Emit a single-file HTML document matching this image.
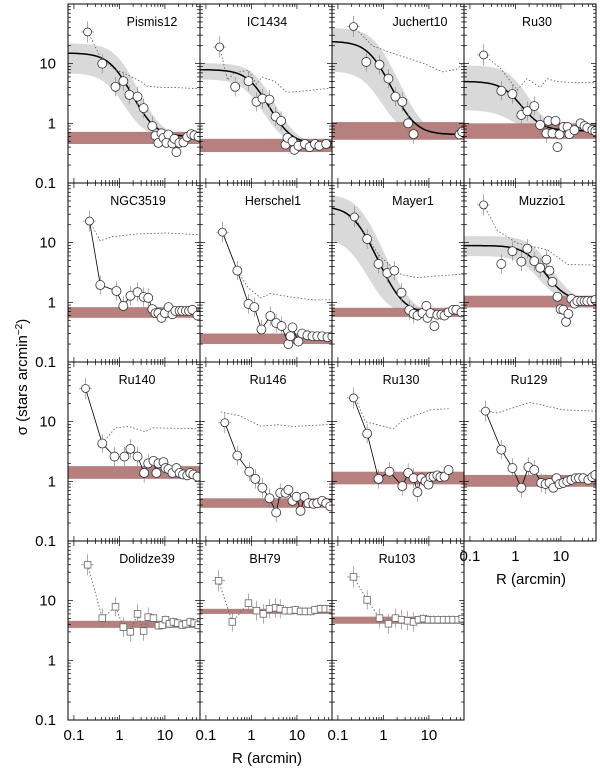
<!DOCTYPE html>
<html><head><meta charset="utf-8"><style>
html,body{margin:0;padding:0;background:#fff;}
svg{display:block;font-family:"Liberation Sans",sans-serif;}
</style></head><body>
<svg id="chart" width="600" height="769" viewBox="0 0 600 769" xmlns="http://www.w3.org/2000/svg">
<text transform="translate(27,377) rotate(-90)" text-anchor="middle" font-size="15">σ (stars arcmin<tspan baseline-shift="super" font-size="10">−2</tspan>)</text>
<text x="267" y="763" text-anchor="middle" font-size="15">R (arcmin)</text>
<text x="531" y="584" text-anchor="middle" font-size="15">R (arcmin)</text>
</svg>
<script>
// ---- data ----
const clusterNames = ["Pismis12","IC1434","Juchert10","Ru30","NGC3519","Herschel1","Mayer1","Muzzio1","Ru140","Ru146","Ru130","Ru129","Dolidze39","BH79","Ru103"];
const nameOffsets = [84,67,88,73,70,73,81,78,69,68,69,65,79,65,65];
const radii = [
 [0.2,0.42,0.82,1.22,1.66,2.5,3.4,5.3,6.2,7.2,8.4,9.3,10.8,11.9,14.6,16.2,17.9,20.8,25.5,31,38,44.5,54.6],
 [0.2,0.44,0.86,1.29,1.75,2.5,3.4,4.5,5.6,6.2,8,8.8,10.8,15,19,25,31,44],
 [0.22,0.42,0.82,1.29,1.84,2.6,3.5,4.6,47,54],
 [0.2,0.49,0.86,1.35,1.83,2.6,3.5,4.8,5.3,6.5,7.6,8.4,9.3,11.3,14,15.4,19.8,27,33,38,49,57],
 [0.22,0.38,0.86,1.22,1.75,2.5,3.4,4.3,5.3,6.2,7.2,8.4,10,12,14.6,17,21,24,29,34,40,52],
 [0.23,0.49,0.86,1.16,1.66,2.6,3.5,4.6,6.5,7.2,8,10.8,13,17,22,28,36,47,60],
 [0.23,0.44,0.78,1.22,1.74,2.5,3.7,4.6,5.6,7.2,8.8,9.3,10.8,13.2,15.3,18.8,22,27,34,40,52],
 [0.2,0.49,0.86,1.35,1.83,2.6,3.5,4.8,5.6,6.5,8.4,9.8,11.3,13,14.6,17,20,23,28,33,38,47,57],
 [0.18,0.42,0.78,1.29,1.74,2.5,3.5,4.3,5.6,6.5,7.2,9.3,10.3,12,14.6,17.9,21,25,31,36,42,52],
 [0.26,0.49,0.9,1.22,1.74,2.5,3.5,4.3,5.6,6.5,8,9.8,12,14.6,17.9,23,28,36,44,54],
 [0.22,0.44,0.78,1.36,2.6,3.5,4.6,5.6,6.8,8.4,9.8,10.8,12.6,15.3,17.9,22,27],
 [0.22,0.49,0.86,1.35,1.93,2.6,3.7,4.6,5.6,6.8,8,9.3,11.3,13.8,17,21,25,31,40,49,57],
 [0.2,0.42,0.82,1.22,1.74,2.5,3.4,4.3,5.6,7.2,8.8,10.3,12.6,15.4,19,24,29,36,44,54],
 [0.19,0.38,0.86,1.29,1.83,2.5,3.4,4.3,5.6,7.2,9.3,12,15.4,20,25,33,42,54],
 [0.22,0.44,0.82,1.29,1.84,2.5,3.4,4.6,5.9,7.6,9.8,12.6,16,21,27,34,44,54]
];
const densities = [
 [34,10,4.1,5.1,3.0,2.8,1.8,0.9,0.62,0.47,0.68,0.57,0.47,0.65,0.46,0.55,0.33,0.47,0.48,0.59,0.66,0.63,0.6],
 [19,4.1,5.1,2.3,2.6,2.5,1.3,1.1,0.44,0.57,0.5,0.36,0.42,0.45,0.4,0.45,0.42,0.45],
 [42,10.7,9.6,5.6,2.8,2.3,1.0,0.66,0.65,0.72],
 [14,3.5,3.1,1.38,1.6,1.95,0.94,0.68,1.1,0.68,1.1,0.4,0.65,0.87,0.87,0.66,0.77,1.0,0.9,0.84,0.77,0.74],
 [23,1.95,1.55,0.87,1.29,1.48,1.23,1.19,0.77,0.66,0.66,0.55,0.66,0.83,0.63,0.72,0.72,0.72,0.72,0.72,0.75,0.6],
 [15,3.4,0.94,0.83,0.35,0.59,0.45,0.4,0.2,0.27,0.38,0.22,0.3,0.28,0.27,0.27,0.27,0.26,0.27],
 [27,11.5,4.4,3.1,3.4,1.45,0.74,0.64,0.6,0.66,0.87,0.55,0.66,0.4,0.62,0.62,0.6,0.68,0.75,0.75,0.68],
 [43,4.4,7.2,4.8,7.9,4.9,3.8,5.2,3.4,2.2,1.24,0.77,0.75,0.47,0.64,1.14,0.95,1.05,1.05,1.05,1.05,1.05,1.1],
 [36,4.3,2.6,2.6,3.5,2.6,1.38,2.0,2.2,1.38,2.0,2.1,1.67,1.6,1.38,1.67,1.38,1.3,1.26,1.38,1.3,1.2],
 [9.6,2.7,1.45,1.1,0.78,0.52,0.3,0.64,0.64,0.72,0.47,0.55,0.32,0.55,0.43,0.42,0.43,0.47,0.43,0.38],
 [25,6.3,1.1,1.45,0.83,1.38,1.13,0.66,1.13,1.0,0.88,1.18,1.2,1.26,1.18,1.2,1.55],
 [15,3.4,1.67,0.78,1.74,1.55,0.94,0.9,0.94,0.78,1.13,0.9,0.94,1.0,1.06,1.13,1.13,1.13,1.06,1.18,1.28],
 [40,5.1,7.9,3.6,3.0,6.0,3.1,5.3,5.1,3.8,3.9,4.8,4.1,4.4,4.2,3.9,4.1,4.4,4.2,3.9],
 [21.6,4.4,9.1,6.8,6.0,7.3,7.6,7.3,6.8,6.8,7.0,6.6,6.6,6.6,7.0,7.3,7.3,7.3],
 [25,10.3,5.1,4.1,5.1,4.8,4.6,4.4,4.8,5.0,4.8,4.8,4.8,4.8,4.8,4.8,4.8,5.0]
];
const bgLow  = [0.45,0.33,0.53,0.55,0.55,0.2,0.57,0.82,1.1,0.36,0.89,0.81,3.5,6.0,4.1];
const bgHigh = [0.72,0.55,1.05,1.0,0.83,0.3,0.81,1.29,1.8,0.52,1.45,1.28,4.6,7.3,5.4];
// King model params [central density, core radius, background]; null = no fit
const kingCentral = [14.5,7.5,23,4.3,null,null,40,7.9,null,null,null,null,null,null,null];
const kingCore    = [0.85,1.2,0.62,0.85,null,null,0.27,2.65,null,null,null,null,null,null,null];
const kingBg      = [0.6,0.45,0.65,0.75,null,null,0.65,1.05,null,null,null,null,null,null,null];
const bandHiFactor = [1.47,1.3,1.7,2.0,null,null,1.6,1.5];
const bandLoFactor = [0.44,0.67,0.3,0.22,null,null,0.28,0.63];
// dotted comparison profiles
const dotR = [
 [0.2,0.4,0.8,1.5,3,4,8,15,30,55],
 [0.2,0.3,0.42,0.86,1.3,1.7,3.3,6,15,55],
 [0.22,0.57,1,2,3.9,8,15,20,40,55],
 [0.2,0.46,1.1,1.8,3.5,5,8,20,55],
 [0.22,0.38,0.7,2.5,11,55],
 [0.23,0.49,0.86,1.6,2.6,9,24,60],
 [0.23,0.44,0.86,2.5,5.5,18,60],
 [0.2,0.4,1.1,5,14,63],
 [0.42,0.82,1.6,3.7,5.5,55],
 [0.21,0.55,1.6,3.8,8,60],
 [0.22,0.4,1.66,2.7,10.8,27],
 [0.22,0.4,2.1,11,60]
];
const dotV = [
 [35,12,8,6.5,5,4.2,4,4,3.9,3.8],
 [19,5.3,7,7.8,4.5,6,5.0,3.3,3.5,3.9],
 [42,20,17,14,12,10,8,7.3,8,10],
 [14,8.5,3.6,5.6,4,5.6,5,4.8,4.8],
 [23,10.7,12.6,14,14.5,13.6],
 [15,3.4,1.74,1.18,1.4,1.2,1.1,1.1],
 [27,12,5.8,2.9,2.6,2.8,3.0],
 [43,16,9.8,7.6,4.3,4.2],
 [4.3,7.9,8.3,6.8,7.9,7.6],
 [14.5,12.6,8.4,8.9,8.3,9],
 [30,10,7.6,10.7,15.8,16.5],
 [15,14,21,15.8,15]
];
const xTickLabels = ["0.1","1","10"];
const yTickLabels = ["0.1","1","10"];

// ---- layout ----
const NS="http://www.w3.org/2000/svg";
const svg=document.getElementById('chart');
const colLeft=[68,200,332,464], rowTop=[4,183,362,541], PW=132, PH=179;
const LX0=-1.13, PXD=45.5, LY0=-1, PYD=PH/3;
function mk(tag,attrs,parent){const e=document.createElementNS(NS,tag);for(const k in attrs)e.setAttribute(k,attrs[k]);(parent||svg).appendChild(e);return e;}
function xs(p,r){return colLeft[p%4]+(Math.log10(r)-LX0)*PXD;}
function ys(p,v){return rowTop[Math.floor(p/4)]+PH-(Math.log10(v)-LY0)*PYD;}
const defs=mk('defs',{});

for(let p=0;p<15;p++){
  const L=colLeft[p%4], T=rowTop[Math.floor(p/4)];
  const g=mk('g',{});
  
  
  const cp=mk('clipPath',{id:'c'+p},defs); mk('rect',{x:L,y:T,width:PW,height:PH},cp);
  const inner=mk('g',{'clip-path':'url(#c'+p+')'},g);
  const rs=[]; for(let i=0;i<=120;i++) rs.push(Math.pow(10,LX0+i*(PW/PXD)/120));
  if(kingCentral[p]!==null){
    const f0=kingCentral[p],rc=kingCore[p],bg=kingBg[p];
    const up=rs.map(r=>[xs(p,r),ys(p,bg+f0*bandHiFactor[p]/(1+Math.pow(r/(rc*1.25),2)))]);
    const lo=rs.map(r=>[xs(p,r),ys(p,bg*0.95+f0*bandLoFactor[p]/(1+Math.pow(r/(rc*0.8),2)))]).reverse();
    const band=mk('path',{d:'M'+up.concat(lo).map(a=>a[0].toFixed(1)+','+a[1].toFixed(1)).join('L')+'Z',fill:'#d9d9d9'},inner);
    
    
  }
  const bb=mk('rect',{x:L,width:PW,y:ys(p,bgHigh[p]),height:ys(p,bgLow[p])-ys(p,bgHigh[p]),fill:'#b5807e'},inner);
  
  
  if(kingCentral[p]!==null){
    const f0=kingCentral[p],rc=kingCore[p],bg=kingBg[p];
    const pts=rs.map(r=>xs(p,r).toFixed(1)+','+ys(p,bg+f0/(1+Math.pow(r/rc,2))).toFixed(1));
    const kc=mk('polyline',{points:pts.join(' '),fill:'none',stroke:'#000','stroke-width':1.5},inner);
    
    
  }
  if(p<12){
    const pts=dotR[p].map((r,i)=>xs(p,r).toFixed(1)+','+ys(p,dotV[p][i]).toFixed(1));
    const dl=mk('polyline',{points:pts.join(' '),fill:'none',stroke:'#555','stroke-width':0.8,'stroke-dasharray':'1.5,2'},inner);
    
    
  }
  const R=radii[p], V=densities[p];
  const solid=[4,5,8,9,10,11].includes(p), sq=p>=12;
  if(solid||sq){
    const pts=R.map((r,i)=>xs(p,r).toFixed(1)+','+ys(p,V[i]).toFixed(1));
    const cl=mk('polyline',{points:pts.join(' '),fill:'none',stroke:sq?'#555':'#000','stroke-width':0.8,'stroke-dasharray':sq?'1.5,2':'none'},inner);
    
    
  }
  R.forEach((r,i)=>{
    const e=i===0?0.5:(i<8?0.45:0.18);
    const x=xs(p,r);
    const eb=mk('line',{x1:x,x2:x,y1:ys(p,V[i]*(1+e)),y2:ys(p,V[i]/(1+e)),stroke:'#888','stroke-width':0.7},inner);
    
    
    if(i===0){
      const hx=mk('line',{x1:xs(p,r*0.72),x2:xs(p,r*1.38),y1:ys(p,V[i]),y2:ys(p,V[i]),stroke:'#888','stroke-width':0.7},inner);
      
      
    }
  });
  R.forEach((r,i)=>{
    const x=xs(p,r), y=ys(p,V[i]);
    let m;
    if(sq) m=mk('rect',{x:x-3.3,y:y-3.3,width:6.6,height:6.6,fill:'#fff',stroke:'#666','stroke-width':0.8},inner);
    else m=mk('circle',{cx:x,cy:y,r:i===0?4:4.5,fill:'#fff',stroke:'#333','stroke-width':0.8},inner);
    
    
  });
  const tg=mk('g',{stroke:'#000','stroke-width':0.7},g);
  for(let d=-1;d<=1;d++)for(let k=1;k<=9;k++){
    const v=k*Math.pow(10,d); const lx=Math.log10(v); if(lx<LX0||lx>LX0+PW/PXD)continue;
    const x=xs(p,v), len=k===1?5:3;
    mk('line',{x1:x,x2:x,y1:T+PH,y2:T+PH-len},tg); mk('line',{x1:x,x2:x,y1:T,y2:T+len},tg);
  }
  for(let d=-1;d<=1;d++)for(let k=1;k<=9;k++){
    const v=k*Math.pow(10,d); const y=ys(p,v), len=k===1?5:3;
    mk('line',{x1:L,x2:L+len,y1:y,y2:y},tg); mk('line',{x1:L+PW,x2:L+PW-len,y1:y,y2:y},tg);
  }
  const fr=mk('rect',{x:L,y:T,width:PW,height:PH,fill:'none',stroke:'#000','stroke-width':1},g);
  
  
  const nm=mk('text',{x:L+nameOffsets[p],y:T+22,'text-anchor':'middle','font-size':12.5},g);
  nm.textContent=clusterNames[p];
  
  
  if(p%4===0){
    yTickLabels.forEach((t,j)=>{
      const v=Math.pow(10,j-1);
      const yl=mk('text',{x:56,y:ys(p,v)+5,'text-anchor':'end','font-size':15},svg);
      yl.textContent=t;
      
      
    });
  }
  if(p>=11){
    xTickLabels.forEach((t,j)=>{
      const v=Math.pow(10,j-1);
      const xl=mk('text',{x:xs(p,v),y:T+PH+20,'text-anchor':'middle','font-size':15},svg);
      xl.textContent=t;
      
      
    });
  }
}
</script>
</body></html>
